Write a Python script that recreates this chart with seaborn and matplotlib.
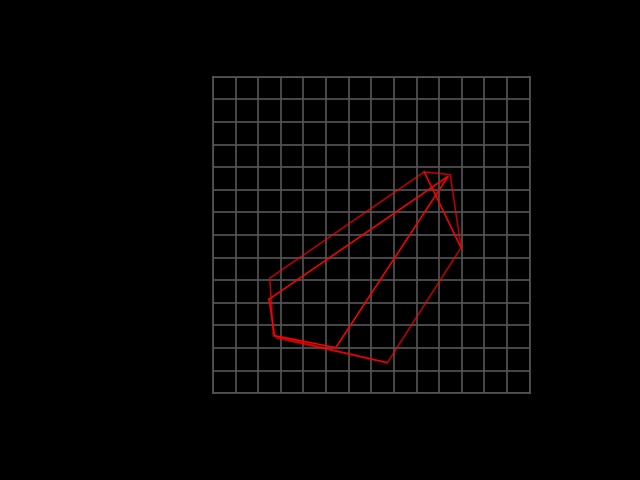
import matplotlib
matplotlib.use("Agg")
import matplotlib.pyplot as plt
import seaborn as sns
import pandas as pd

# outline traces (grid units, 14 x 14 cells)
outer_x = [9.34, 10.49, 10.97, 7.71, 2.67, 2.51, 9.34]
outer_y = [9.79, 9.67, 6.44, 1.35, 2.54, 5.09, 9.79]

inner_x = [2.48, 10.40, 5.43, 2.72, 2.48]
inner_y = [4.16, 9.60, 2.02, 2.55, 4.16]

diag_x = [9.34, 10.97]
diag_y = [9.79, 6.44]

base_x = [2.80, 7.71]
base_y = [2.45, 1.35]

grid_ticks = list(range(0, 15))

sns.set_style("dark")
plt.rcParams["font.family"] = ["DejaVu Sans"]

fig = plt.figure(figsize=(6.4, 4.8), dpi=100, facecolor="black")
ax = fig.add_axes([213 / 640, (480 - 393.3) / 480, 316.6 / 640, 316.6 / 480])
ax.set_facecolor("black")

paths = [
    (outer_x, outer_y, 0.75),
    (inner_x, inner_y, 1.0),
    (diag_x, diag_y, 1.0),
    (base_x, base_y, 0.75),
]
for xs, ys, a in paths:
    df = pd.DataFrame({"x": xs, "y": ys})
    sns.lineplot(data=df, x="x", y="y", sort=False, estimator=None,
                 color="red", alpha=a, linewidth=1.1, ax=ax, zorder=3)

ax.set_xlim(0, 14)
ax.set_ylim(0, 14)
ax.set_xticks(grid_ticks)
ax.set_yticks(grid_ticks)
ax.grid(True, color="#555555", linewidth=1.2)
ax.tick_params(length=0, labelbottom=False, labelleft=False)
ax.set_xlabel("")
ax.set_ylabel("")
for s in ax.spines.values():
    s.set_visible(True)
    s.set_color("#555555")
    s.set_linewidth(1.2)

fig.savefig("out.png", facecolor="black")
